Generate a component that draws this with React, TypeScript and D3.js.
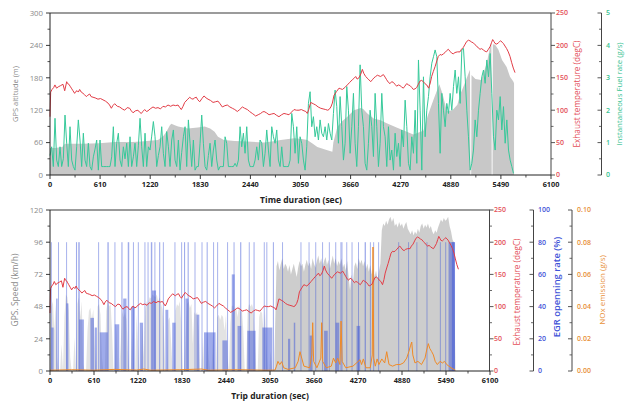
import React from 'react';
import * as d3 from 'd3';

// ---------------- DATA ----------------
const X_TICKS = [0, 610, 1220, 1830, 2440, 3050, 3660, 4270, 4880, 5490, 6100];
const ALT_TICKS = [0, 60, 120, 180, 240, 300];
const TEMP_TICKS = [0, 50, 100, 150, 200, 250];
const FUEL_TICKS = [0, 1, 2, 3, 4, 5];
const SPEED_TICKS = [0, 24, 48, 72, 96, 120];
const EGR_TICKS = [0, 20, 40, 60, 80, 100];
const NOX_TICKS = [0, 0.02, 0.04, 0.06, 0.08, 0.1];

// exhaust temperature (degC), shared by both panels
const exhaustTime = [0, 8, 25, 45, 60, 80, 100, 130, 158, 179, 203, 215, 230, 245, 260, 280, 300, 315, 330, 345, 361, 380, 402, 420, 442, 460, 483, 500, 524, 550, 584, 615, 645, 675, 706, 725, 747, 765, 787, 820, 848, 880, 909, 940, 970, 990, 1011, 1040, 1071, 1090, 1112, 1130, 1153, 1175, 1193, 1220, 1254, 1285, 1315, 1345, 1376, 1405, 1437, 1470, 1498, 1530, 1559, 1580, 1599, 1620, 1640, 1670, 1701, 1720, 1741, 1760, 1782, 1800, 1823, 1850, 1875, 1900, 1924, 1955, 1985, 2015, 2045, 2070, 2098, 2130, 2159, 2190, 2220, 2250, 2281, 2310, 2342, 2370, 2403, 2430, 2463, 2485, 2504, 2535, 2565, 2585, 2606, 2635, 2667, 2695, 2728, 2760, 2788, 2820, 2849, 2880, 2910, 2940, 2971, 3000, 3032, 3060, 3093, 3115, 3133, 3150, 3174, 3205, 3235, 3265, 3296, 3325, 3357, 3380, 3397, 3420, 3438, 3458, 3490, 3519, 3540, 3560, 3590, 3620, 3650, 3681, 3700, 3722, 3740, 3762, 3785, 3803, 3820, 3843, 3875, 3905, 3925, 3945, 3965, 3986, 4005, 4026, 4059, 4080, 4099, 4120, 4140, 4160, 4180, 4200, 4221, 4240, 4261, 4280, 4302, 4320, 4343, 4365, 4383, 4405, 4424, 4445, 4465, 4485, 4505, 4525, 4546, 4565, 4587, 4610, 4630, 4647, 4668, 4688, 4710, 4728, 4750, 4769, 4790, 4810, 4830, 4850, 4870, 4891, 4910, 4931, 4960, 4992, 5010, 5033, 5055, 5073, 5095, 5114, 5135, 5154, 5175, 5195, 5215, 5236, 5255, 5276, 5297, 5317, 5338, 5358, 5375, 5390, 5405, 5418, 5440, 5459, 5475, 5487, 5505, 5520, 5540, 5560, 5580, 5601, 5620, 5641, 5662];
const exhaustTemp = [90, 128, 132, 135, 139, 134, 136, 138, 140, 130, 144, 141, 140, 137, 134, 130, 126, 129, 130, 128, 132, 128, 126, 124, 121, 123, 125, 121, 120, 119, 117, 118, 116, 114, 111, 108, 103, 107, 110, 106, 105, 102, 100, 104, 103, 99, 96, 99, 100, 97, 95, 98, 101, 98, 99, 102, 105, 103, 104, 102, 106, 105, 108, 106, 108, 107, 108, 104, 101, 106, 112, 116, 120, 118, 117, 119, 120, 116, 113, 118, 122, 119, 117, 115, 112, 113, 114, 110, 105, 107, 108, 105, 103, 101, 98, 101, 105, 103, 101, 98, 95, 93, 91, 93, 95, 97, 98, 96, 93, 94, 95, 92, 90, 93, 95, 94, 93, 97, 101, 100, 100, 101, 99, 98, 95, 101, 112, 110, 108, 105, 103, 102, 101, 100, 101, 105, 111, 123, 129, 134, 133, 132, 135, 139, 143, 147, 149, 152, 148, 150, 156, 163, 157, 152, 148, 144, 147, 150, 152, 154, 153, 152, 155, 151, 147, 143, 141, 144, 143, 140, 137, 139, 138, 136, 134, 137, 141, 139, 138, 135, 132, 133, 135, 140, 145, 146, 144, 141, 139, 134, 142, 152, 160, 167, 176, 183, 186, 185, 187, 189, 192, 194, 191, 188, 187, 189, 190, 190, 194, 197, 202, 206, 208, 207, 205, 204, 201, 199, 196, 194, 195, 193, 191, 190, 194, 198, 204, 209, 206, 203, 202, 204, 206, 207, 205, 203, 199, 195, 190, 183, 174, 165, 158];

// GPS altitude (m)
const altTime = [0, 60, 150, 180, 400, 600, 787, 1000, 1112, 1315, 1380, 1417, 1460, 1478, 1520, 1560, 1680, 1800, 1883, 1950, 2004, 2045, 2118, 2250, 2403, 2606, 2700, 2809, 2971, 3050, 3133, 3200, 3255, 3377, 3438, 3450, 3498, 3560, 3620, 3701, 3783, 3813, 3864, 3945, 4018, 4100, 4220, 4424, 4546, 4600, 4668, 4740, 4780, 4832, 4900, 4960, 4992, 5050, 5100, 5114, 5118, 5128, 5132, 5180, 5250, 5317, 5360, 5374, 5378, 5388, 5392, 5420, 5460, 5504, 5560, 5601, 5641, 5650];
const altValue = [50, 50, 52, 58, 58, 59, 61, 61, 62, 65, 72, 80, 92, 95, 92, 90, 86, 88, 90, 86, 80, 71, 65, 63, 62, 60, 62, 65, 68, 67, 65, 58, 52, 46, 43, 60, 89, 100, 108, 120, 124, 122, 114, 104, 102, 96, 88, 75, 82, 110, 139, 168, 150, 118, 120, 130, 148, 170, 190, 195, 0, 0, 185, 178, 176, 207, 238, 244, 0, 0, 242, 241, 232, 213, 200, 182, 173, 170];

// Instantaneous fuel rate (g/s), one value every FUEL_DT seconds
const FUEL_DT = 20.3;
const fuelRate = [
  0.6, 0.87, 0.26, 1.75, 0.46, 0.26, 0.87, 0.26, 0.5, 1.85, 0.98, 0.26, 1.49, 0.46, 0.26, 0.15, 0.87, 1.7, 1.08, 0.26,
  1.29, 0.46, 0.26, 0.98, 0.26, 0.15, 0.56, 0.8, 1.08, 0.15, 1.08, 0.26, 0.26, 0.26, 0.26, 0.26, 0.26, 0.56, 1.49, 0.26,
  0.98, 1.29, 0.46, 0.26, 0.87, 0.5, 0.98, 0.26, 1.18, 0.26, 0.56, 0.98, 0.26, 0.9, 1.75, 0.87, 0.26, 1.29, 0.26, 0.87,
  0.77, 1.2, 1.65, 1.18, 0.26, 0.6, 0.87, 1.49, 0.67, 0.26, 1.34, 0.87, 0.26, 1.08, 1.39, 0.46, 0.26, 1.08, 0.15, 0.7,
  1.18, 1.49, 0.26, 1.7, 0.98, 0.26, 1.08, 0.15, 0.26, 0.26, 0.98, 1.85, 0.98, 0.26, 0.15, 0.6, 0.98, 0.26, 0.77, 1.08,
  0.46,
  0.15, 0.26, 0.26, 0.26, 1.18, 0.98, 0.26, 0.26, 0.26, 0.26, 0.36, 0.26, 0.46, 1.49, 0.87, 1.29, 0.67, 1.49, 0.46, 0.26,
  0.26, 0.26, 0.46, 0.87, 0.46, 1.08, 0.98, 0.26, 0.67, 1.39, 0.77, 0.26, 1.49, 1.18, 0.98, 1.39, 0.46, 0.26, 0.87, 0.26,
  0.26, 0.26, 0.26, 0.46, 1.9, 1.49, 0.67, 1.49, 0.36, 1.18, 0.98, 0.46, 0.15, 0.87, 2.21, 2.57, 1.49, 1.8, 1.18, 1.49,
  1.08, 1.7, 1.29, 1.18, 1.49, 1.08, 1.59, 1.29, 1.08, 1.9, 2.62, 2.11, 0.98, 2.42, 1.49, 0.46, 0.98, 2.73, 2.0, 0.67,
  1.49, 2.52, 0.98, 0.26, 1.49, 3.4, 2.0, 1.49, 0.36, 0.15, 0.98, 2.0, 1.49, 0.57, 2.52, 1.49, 0.26, 0.98, 2.52, 1.49,
  1.18, 0.26, 1.49, 0.46, 0.77, 0.15, 1.29, 0.57, 0.98, 0.26, 1.39, 0.87, 2.31, 1.49, 0.36, 0.15, 1.18, 0.67, 2.0, 0.36,
  3.55, 2.0, 0.15, 3.03, 1.18, 2.0, 2.42, 3.03, 3.45, 3.65, 3.86, 3.65, 2.21, 0.67, 2.52, 2.0, 1.49, 2.21, 1.9, 2.52,
  2.0, 2.73, 3.24, 2.52, 3.03, 2.21, 3.86, 3.91, 3.03, 2.0, 1.18, 0.15, 0.36, 0.77, 1.7, 1.18, 2.0, 2.52, 3.03, 3.24,
  2.83, 3.55, 3.03, 3.75, 2.52, 1.18, 0.77, 2.0, 1.7, 2.42, 1.39, 2.11, 0.98, 1.7, 0.77, 0.46, 0.26, 0.05
];

// GPS speed (km/h), one value every SPEED_DT seconds
const SPEED_DT = 20;
const gpsSpeed = [
  0, 48, 52, 30, 50, 10, 0, 0, 20, 0, 40, 57, 55, 45, 10, 0, 0, 25, 0, 50,
  55, 40, 52, 5, 0, 0, 30, 45, 47, 38, 46, 20, 0, 48, 50, 42, 10, 0, 0, 45,
  52, 48, 50, 30, 0, 0, 35, 0, 0, 20, 45, 40, 44, 38, 15, 0, 0, 30, 0, 0,
  42, 20, 0, 0, 35, 10, 45, 52, 50, 55, 54, 57, 56, 55, 57, 52, 55, 50, 46, 30,
  0, 0, 38, 40, 20, 0, 0, 45, 50, 48, 52, 35, 0, 0, 25, 50, 52, 47, 50, 20,
  44, 42, 44, 30, 0, 0, 25, 0, 0, 30, 10, 0, 0, 28, 0, 0, 40, 42, 38, 42,
  40, 30, 42, 10, 0, 35, 48, 49, 45, 48, 40, 49, 44, 46, 30, 0, 0, 45, 50, 48,
  50, 46, 25, 0, 0, 40, 45, 43, 30, 45, 20, 0, 0, 15, 0, 0, 30, 78, 82, 75,
  80, 84, 76, 80, 78, 74, 79, 72, 76, 80, 75, 70, 77, 82, 78, 80, 74, 79, 83, 78,
  81, 76, 84, 80, 77, 82, 86, 80, 84, 78, 82, 85, 79, 83, 76, 81, 86, 80, 84, 78,
  82, 79, 84, 77, 80, 75, 82, 70, 60, 72, 65, 78, 81, 76, 84, 80, 83, 78, 82, 76,
  80, 74, 79, 72, 77, 70, 75, 68, 74, 80, 105, 110, 108, 112, 109, 113, 115, 111, 114, 108,
  110, 107, 111, 108, 110, 106, 109, 111, 106, 104, 102, 105, 101, 104, 102, 106, 103, 108, 110, 106,
  109, 107, 110, 106, 108, 104, 102, 105, 103, 107, 110, 113, 111, 114, 112, 113, 115, 108, 104, 98,
  96, 0
];
const SPEED_DENSE_FROM = 3130; // start of continuous highway driving (s)

// EGR opening rate (%) pulses
const egrStart = [12, 18, 85, 112, 224, 228, 360, 392, 405, 560, 620, 668, 690, 796, 894, 898, 990, 1015, 1078, 1125, 1150, 1218, 1245, 1310, 1353, 1398, 1415, 1448, 1513, 1565, 1600, 1695, 1726, 1819, 1858, 1878, 1908, 2004, 2030, 2101, 2135, 2172, 2262, 2318, 2390, 2456, 2520, 2545, 2600, 2636, 2735, 2756, 2822, 2943, 2964, 3000, 3090, 3218, 3300, 3380, 3473, 3585, 3600, 3678, 3773, 3800, 3866, 3955, 3960, 4027, 4042, 4108, 4181, 4250, 4270, 4362, 4435, 4481, 4550, 4828, 4965, 5080, 5220, 5405, 5480, 5525, 5572];
const egrEnd = [18, 50, 105, 117, 229, 255, 375, 412, 470, 610, 650, 673, 800, 814, 899, 960, 1005, 1060, 1098, 1175, 1155, 1223, 1290, 1315, 1365, 1418, 1470, 1460, 1528, 1570, 1640, 1740, 1731, 1825, 1873, 1920, 1923, 2009, 2070, 2106, 2295, 2186, 2268, 2323, 2460, 2461, 2560, 2558, 2650, 2652, 2850, 2761, 2836, 3082, 2969, 3012, 3104, 3223, 3330, 3400, 3478, 3597, 3640, 3690, 3778, 3850, 3871, 3968, 4010, 4032, 4047, 4120, 4186, 4300, 4282, 4380, 4442, 4486, 4555, 4833, 4972, 5090, 5226, 5412, 5485, 5615, 5612];
const egrLevel = [80, 27, 45, 80, 80, 42, 80, 80, 32, 33, 27, 80, 24, 80, 80, 29, 80, 45, 80, 40, 80, 80, 30, 80, 80, 80, 50, 80, 80, 80, 38, 30, 80, 80, 80, 45, 80, 80, 35, 80, 24, 80, 80, 80, 19, 80, 60, 80, 28, 80, 25, 80, 80, 27, 80, 80, 80, 80, 20, 30, 80, 80, 22, 80, 80, 25, 80, 80, 30, 80, 80, 80, 80, 28, 80, 80, 80, 80, 80, 80, 80, 80, 80, 80, 80, 80, 80];

// NOx emission (g/s)
const noxTime = [0, 300, 600, 900, 1200, 1300, 1400, 1800, 2100, 2200, 2600, 3000, 3120, 3140, 3160, 3185, 3212, 3240, 3300, 3400, 3440, 3466, 3490, 3520, 3600, 3630, 3642, 3655, 3700, 3755, 3767, 3780, 3830, 3900, 3930, 3960, 3988, 4020, 4035, 4050, 4100, 4200, 4298, 4320, 4344, 4380, 4440, 4468, 4478, 4488, 4510, 4535, 4560, 4600, 4640, 4668, 4700, 4750, 4800, 4853, 4900, 4945, 4975, 5000, 5015, 5030, 5060, 5100, 5150, 5199, 5222, 5245, 5265, 5292, 5315, 5340, 5370, 5407, 5440, 5470, 5500, 5530, 5560, 5600, 5620];
const noxValue = [0.0005, 0.0008, 0.0005, 0.001, 0.0006, 0.0012, 0.0005, 0.0008, 0.0012, 0.0005, 0.0008, 0.0005, 0.0006, 0.003, 0.006, 0.004, 0.0058, 0.002, 0.001, 0.002, 0.006, 0.012, 0.008, 0.003, 0.002, 0.01, 0.03, 0.006, 0.002, 0.008, 0.03, 0.006, 0.002, 0.003, 0.008, 0.005, 0.008, 0.004, 0.031, 0.006, 0.002, 0.003, 0.007, 0.004, 0.0075, 0.002, 0.002, 0.01, 0.077, 0.008, 0.003, 0.0075, 0.004, 0.0075, 0.005, 0.012, 0.004, 0.003, 0.004, 0.004, 0.005, 0.008, 0.012, 0.016, 0.018, 0.01, 0.005, 0.006, 0.004, 0.008, 0.013, 0.017, 0.014, 0.012, 0.01, 0.006, 0.004, 0.006, 0.005, 0.006, 0.004, 0.003, 0.002, 0.001, 0.0005];

// ---------------- STYLE ----------------
const FONT = "'Open Sans', 'DejaVu Sans', sans-serif";
const C_RED = '#e23c46';
const C_GREEN = '#36c99a';
const C_GRAY_AREA = '#c8c8c8';
const C_BLUE = '#3f57d8';
const C_ORANGE = '#f08a26';
const C_AXIS_GRAY = '#8a8a8a';
const C_RED_LBL = '#e4505a';
const C_GREEN_LBL = '#38c392';
const C_BLUE_LBL = '#3f53d8';
const C_ORANGE_LBL = '#e8903a';

function mids(arr: number[]) {
  const out: number[] = [];
  for (let i = 0; i < arr.length - 1; i++) out.push((arr[i] + arr[i + 1]) / 2);
  return out;
}

type VAxisProps = {
  x: number; scale: any; major: number[]; dir: number; fmt: (v: number) => string;
  labelX: number; anchor: string; color: string; size: number; weight?: number; lineColor: string;
};
function VAxis({ x, scale, major, dir, fmt, labelX, anchor, color, size, weight, lineColor }: VAxisProps) {
  const [y0, y1] = scale.range();
  const minor = mids(major);
  return (
    <g>
      <line x1={x} x2={x} y1={y0} y2={y1} stroke={lineColor} strokeWidth={1} />
      {minor.map((v) => (
        <line key={'m' + v} x1={x} x2={x + dir * 2.5} y1={scale(v)} y2={scale(v)} stroke={lineColor} strokeWidth={0.8} />
      ))}
      {major.map((v) => (
        <line key={'M' + v} x1={x} x2={x + dir * 4} y1={scale(v)} y2={scale(v)} stroke={lineColor} strokeWidth={0.9} />
      ))}
      {major.map((v) => (
        <text key={'t' + v} x={labelX} y={scale(v)} dy="0.35em" textAnchor={anchor} fill={color}
          fontSize={size} fontWeight={weight || 400} fontFamily={FONT}>{fmt(v)}</text>
      ))}
    </g>
  );
}

function XAxis({ scale, y, labelY, size }: { scale: any; y: number; labelY: number; size: number }) {
  const [x0, x1] = scale.range();
  const minor = mids(X_TICKS);
  return (
    <g>
      <line x1={x0} x2={x1} y1={y} y2={y} stroke="#222" strokeWidth={1} />
      {minor.map((v) => (
        <line key={'m' + v} x1={scale(v)} x2={scale(v)} y1={y} y2={y + 2.5} stroke="#222" strokeWidth={0.8} />
      ))}
      {X_TICKS.map((v) => (
        <line key={'M' + v} x1={scale(v)} x2={scale(v)} y1={y} y2={y + 4} stroke="#222" strokeWidth={0.9} />
      ))}
      {X_TICKS.map((v) => (
        <text key={'t' + v} x={scale(v)} y={labelY} dy="0.35em" textAnchor="middle" fill="#222"
          fontSize={size} fontWeight={700} fontFamily={FONT}>{v}</text>
      ))}
    </g>
  );
}

function VTitle({ x, y, text, color, size, weight }: { x: number; y: number; text: string; color: string; size: number; weight?: number }) {
  return (
    <text transform={`translate(${x},${y}) rotate(-90)`} textAnchor="middle" dy="0.35em" fill={color}
      fontSize={size} fontWeight={weight || 400} fontFamily={FONT}>{text}</text>
  );
}

export default function App() {
  // ---------- top panel scales ----------
  const xT = d3.scaleLinear().domain([0, 6100]).range([50, 551]);
  const yAlt = d3.scaleLinear().domain([0, 300]).range([175, 13]);
  const yTempT = d3.scaleLinear().domain([0, 250]).range([175, 13]);
  const yFuel = d3.scaleLinear().domain([0, 5]).range([175, 13]);

  // ---------- bottom panel scales ----------
  const xB = d3.scaleLinear().domain([0, 6100]).range([50, 490]);
  const ySpd = d3.scaleLinear().domain([0, 120]).range([371, 210]);
  const yTempB = d3.scaleLinear().domain([0, 250]).range([371, 210]);
  const yEgr = d3.scaleLinear().domain([0, 100]).range([371, 210]);
  const yNox = d3.scaleLinear().domain([0, 0.1]).range([371, 210]);

  const altArea = d3.area<number>()
    .x((_, i) => xT(altTime[i])).y0(yAlt(0)).y1((d) => yAlt(d))(altValue) || '';
  const fuelLine = d3.line<number>()
    .x((_, i) => xT(i * FUEL_DT)).y((d) => yFuel(d))(fuelRate) || '';
  const tempLineT = d3.line<number>()
    .x((_, i) => xT(exhaustTime[i])).y((d) => yTempT(d))(exhaustTemp) || '';

  const speedPts = gpsSpeed.map((v, i) => ({ t: i * SPEED_DT, v }));
  const spdArea = d3.area<{ t: number; v: number }>()
    .x((d) => xB(d.t)).y0(ySpd(0)).y1((d) => ySpd(d.v));
  const speedAreaLight = spdArea(speedPts.filter((d) => d.t <= SPEED_DENSE_FROM)) || '';
  const speedAreaDense = spdArea(speedPts.filter((d) => d.t >= SPEED_DENSE_FROM - SPEED_DT)) || '';
  const tempLineB = d3.line<number>()
    .x((_, i) => xB(exhaustTime[i])).y((d) => yTempB(d))(exhaustTemp) || '';
  const noxLine = d3.line<number>()
    .x((_, i) => xB(noxTime[i])).y((d) => yNox(d))(noxValue) || '';

  return (
    <svg width={627} height={404} style={{ position: 'absolute', left: 0, top: 0, background: '#fff' }}>
      {/* ================= TOP PANEL ================= */}
      <path d={altArea} fill={C_GRAY_AREA} />
      <path d={fuelLine} fill="none" stroke={C_GREEN} strokeWidth={1} strokeLinejoin="round" />
      <path d={tempLineT} fill="none" stroke={C_RED} strokeWidth={1} strokeLinejoin="round" />
      <line x1={50} x2={551} y1={13} y2={13} stroke="#9b9b9b" strokeWidth={2} />

      <VAxis x={50} scale={yAlt} major={ALT_TICKS} dir={-1} fmt={(v) => String(v)} labelX={43}
        anchor="end" color={C_AXIS_GRAY} size={7.8} lineColor="#222" />
      <VAxis x={551} scale={yTempT} major={TEMP_TICKS} dir={1} fmt={(v) => String(v)} labelX={556}
        anchor="start" color={C_RED_LBL} size={7} weight={600} lineColor="#444" />
      <VAxis x={601.5} scale={yFuel} major={FUEL_TICKS} dir={-1} fmt={(v) => String(v)} labelX={606}
        anchor="start" color={C_GREEN_LBL} size={7} weight={600} lineColor="#444" />
      <XAxis scale={xT} y={175} labelY={184} size={7.3} />

      <VTitle x={15} y={94} text="GPS altitude (m)" color={C_AXIS_GRAY} size={7.5} />
      <VTitle x={577.5} y={94} text="Exhaust temperature (degC)" color={C_RED_LBL} size={8.2} />
      <VTitle x={619} y={94} text="Instantaneous Fuel rate (g/s)" color={C_GREEN_LBL} size={7.8} />
      <text x={301} y={200} dy="0.35em" textAnchor="middle" fontSize={8.5} fontWeight={700} fontFamily={FONT} fill="#222">Time duration (sec)</text>

      {/* ================= BOTTOM PANEL ================= */}
      <path d={speedAreaLight} fill={C_GRAY_AREA} fillOpacity={0.5} />
      <path d={speedAreaDense} fill={C_GRAY_AREA} fillOpacity={0.9} />
      {egrStart.map((s, i) => (
        <rect key={'egr' + i} x={xB(s)} width={Math.max(0.9, xB(egrEnd[i]) - xB(s))}
          y={yEgr(egrLevel[i])} height={yEgr(0) - yEgr(egrLevel[i])} fill={C_BLUE} fillOpacity={0.5} />
      ))}
      <path d={noxLine} fill="none" stroke={C_ORANGE} strokeWidth={1} strokeLinejoin="round" />
      <path d={tempLineB} fill="none" stroke={C_RED} strokeWidth={1} strokeLinejoin="round" />
      <line x1={50} x2={490} y1={210} y2={210} stroke="#9b9b9b" strokeWidth={2} />

      <VAxis x={50} scale={ySpd} major={SPEED_TICKS} dir={-1} fmt={(v) => String(v)} labelX={43}
        anchor="end" color={C_AXIS_GRAY} size={7.8} lineColor="#222" />
      <VAxis x={489.5} scale={yTempB} major={TEMP_TICKS} dir={1} fmt={(v) => String(v)} labelX={494}
        anchor="start" color={C_RED_LBL} size={7} weight={600} lineColor="#444" />
      <VAxis x={533.5} scale={yEgr} major={EGR_TICKS} dir={-1} fmt={(v) => String(v)} labelX={538}
        anchor="start" color={C_BLUE_LBL} size={7} weight={600} lineColor="#444" />
      <VAxis x={572} scale={yNox} major={NOX_TICKS} dir={-1} fmt={(v) => v.toFixed(2)} labelX={577}
        anchor="start" color={C_ORANGE_LBL} size={7} weight={600} lineColor="#444" />
      <XAxis scale={xB} y={371} labelY={380} size={7.3} />

      <VTitle x={15} y={290} text="GPS. Speed (km/h)" color={C_AXIS_GRAY} size={8.5} />
      <VTitle x={517} y={292} text="Exhaust temperature (degC)" color={C_RED_LBL} size={8.2} />
      <VTitle x={557} y={287} text="EGR openning rate (%)" color={C_BLUE_LBL} size={9.4} weight={600} />
      <VTitle x={602} y={290} text="NOx emission (g/s)" color={C_ORANGE_LBL} size={8} />
      <text x={270} y={396.5} dy="0.35em" textAnchor="middle" fontSize={8.5} fontWeight={700} fontFamily={FONT} fill="#222">Trip duration (sec)</text>
    </svg>
  );
}
